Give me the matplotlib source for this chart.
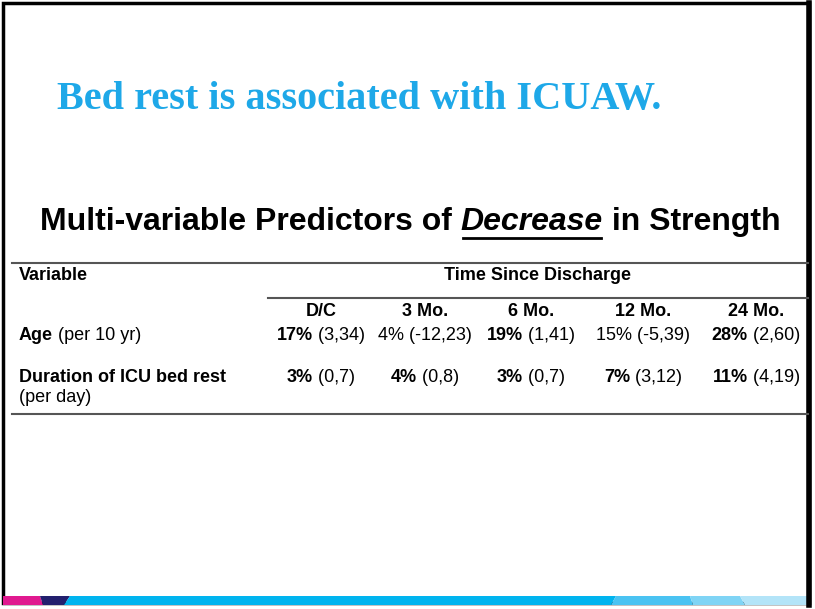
import matplotlib.pyplot as plt
from matplotlib.patches import Polygon, Rectangle

# table content
columns = ["D/C", "3 Mo.", "6 Mo.", "12 Mo.", "24 Mo."]
col_x = [321, 425, 531, 643, 756]
age_bold = ["17%", "", "19%", "", "28%"]
age_rest = [" (3,34)", "4% (-12,23)", " (1,41)", "15% (-5,39)", " (2,60)"]
bed_bold = ["3%", "4%", "3%", "7%", "11%"]
bed_rest = [" (0,7)", " (0,8)", " (0,7)", " (3,12)", " (4,19)"]

fig = plt.figure(figsize=(8.15, 6.09), dpi=100)
ax = fig.add_axes([0, 0, 1, 1])
ax.set_xlim(0, 815)
ax.set_ylim(609, 0)
ax.axis("off")

# slide frame
ax.add_patch(Rectangle((3, 3), 806, 600, fill=False, ec="black", lw=2.5))
ax.plot([809, 809], [3, 605], color="black", lw=4)

# bottom colour band
band = [
    ([(3, 596), (40, 596), (43, 605), (3, 605)], "#e0198f"),
    ([(40, 596), (70, 596), (64, 605), (43, 605)], "#231f6e"),
    ([(70, 596), (616, 596), (611, 605), (64, 605)], "#00b4ef"),
    ([(616, 596), (690, 596), (693, 605), (611, 605)], "#4ac3f2"),
    ([(690, 596), (740, 596), (745, 605), (693, 605)], "#7fd4f5"),
    ([(740, 596), (808, 596), (808, 605), (745, 605)], "#b3e4f8"),
]
for pts, c in band:
    ax.add_patch(Polygon(pts, closed=True, color=c, lw=0))

ax.text(57, 100, "Bed rest is associated with ICUAW.", family="Liberation Serif",
        weight="bold", fontsize=29, color="#1ea8e8", va="center", ha="left")

fig.canvas.draw()
r = fig.canvas.get_renderer()
inv = ax.transData.inverted()


def width(t):
    bb = t.get_window_extent(r)
    return inv.transform((bb.x1, 0))[0] - inv.transform((bb.x0, 0))[0]


def runs(parts, xc, y, size, center=True):
    # parts: list of (text, weight, style)
    objs = []
    for s, w, st in parts:
        objs.append(ax.text(0, y, s, family="Liberation Sans", weight=w, style=st,
                            fontsize=size, va="center", ha="left"))
    total = sum(width(o) for o in objs)
    x = xc - total / 2 if center else xc
    spans = []
    for o in objs:
        o.set_x(x)
        wd = width(o)
        spans.append((x, x + wd))
        x += wd
    return spans


sp = runs([("Multi-variable Predictors of ", "bold", "normal"), ("Decrease", "bold", "italic"),
           (" in Strength", "bold", "normal")], 410, 222, 23)
ax.plot([sp[1][0] + 2, sp[1][1] - 2], [238, 238], color="black", lw=2)

ax.plot([12, 808], [263, 263], color="#555555", lw=1.5)
ax.plot([268, 808], [298, 298], color="#555555", lw=1.5)
ax.plot([12, 808], [414, 414], color="#555555", lw=1.5)

fs = 13
ax.text(19, 275, "Variable", family="Liberation Sans", weight="bold", fontsize=fs, va="center")
ax.text(537, 275, "Time Since Discharge", family="Liberation Sans", weight="bold", fontsize=fs,
        va="center", ha="center")
for name, x in zip(columns, col_x):
    ax.text(x, 312, name, family="Liberation Sans", weight="bold", fontsize=fs,
            va="center", ha="center")

runs([("Age", "bold", "normal"), (" (per 10 yr)", "normal", "normal")], 19, 336, fs, center=False)
ax.text(19, 378, "Duration of ICU bed rest", family="Liberation Sans", weight="bold",
        fontsize=fs, va="center")
ax.text(19, 398, "(per day)", family="Liberation Sans", fontsize=fs, va="center")

for x, b, n in zip(col_x, age_bold, age_rest):
    parts = ([(b, "bold", "normal")] if b else []) + [(n.strip() if not b else n, "normal", "normal")]
    runs(parts, x, 336, fs)
for x, b, n in zip(col_x, bed_bold, bed_rest):
    runs([(b, "bold", "normal"), (n, "normal", "normal")], x, 378, fs)

fig.savefig("out.png", dpi=100)
